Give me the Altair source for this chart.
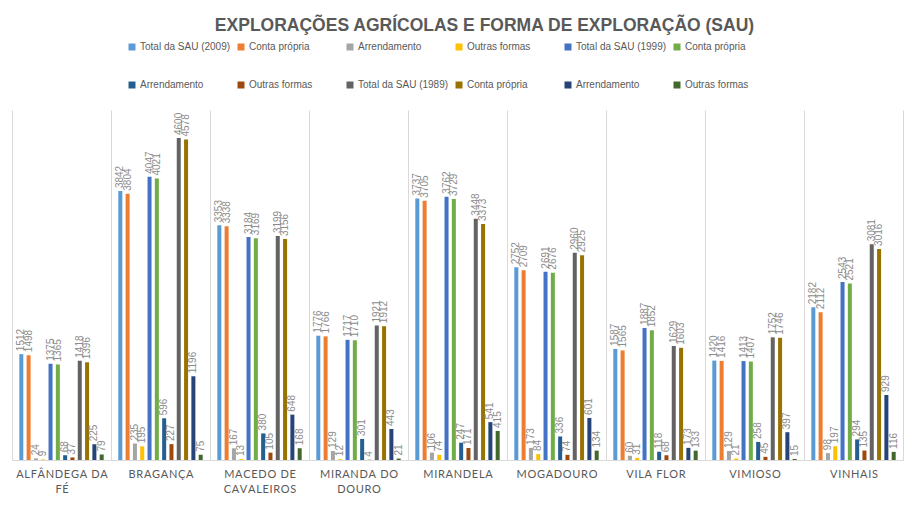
import altair as alt
import pandas as pd

municipios = ["Alfândega da Fé", "Bragança", "Macedo de Cavaleiros", "Miranda do Douro",
              "Mirandela", "Mogadouro", "Vila Flor", "Vimioso", "Vinhais"]
axis_lines = {
    "Alfândega da Fé": ["ALFÂNDEGA DA", "FÉ"],
    "Bragança": ["BRAGANÇA"],
    "Macedo de Cavaleiros": ["MACEDO DE", "CAVALEIROS"],
    "Miranda do Douro": ["MIRANDA DO", "DOURO"],
    "Mirandela": ["MIRANDELA"],
    "Mogadouro": ["MOGADOURO"],
    "Vila Flor": ["VILA FLOR"],
    "Vimioso": ["VIMIOSO"],
    "Vinhais": ["VINHAIS"],
}

series = ["Total da SAU (2009)", "Conta própria|2009", "Arrendamento|2009", "Outras formas|2009",
          "Total da SAU (1999)", "Conta própria|1999", "Arrendamento|1999", "Outras formas|1999",
          "Total da SAU (1989)", "Conta própria|1989", "Arrendamento|1989", "Outras formas|1989"]
colors = ["#5B9BD5", "#ED7D31", "#A5A5A5", "#FFC000",
          "#4472C4", "#70AD47", "#255E91", "#9E480E",
          "#636363", "#997300", "#264478", "#43682B"]

total_2009 = [1512, 3842, 3353, 1776, 3737, 2752, 1587, 1420, 2182]
conta_2009 = [1498, 3804, 3338, 1766, 3705, 2709, 1565, 1416, 2112]
arrend_2009 = [24, 235, 167, 129, 106, 173, 60, 129, 98]
outras_2009 = [9, 195, 13, 12, 74, 84, 31, 21, 197]
total_1999 = [1375, 4047, 3184, 1717, 3762, 2691, 1887, 1413, 2543]
conta_1999 = [1365, 4021, 3169, 1710, 3729, 2676, 1852, 1407, 2521]
arrend_1999 = [68, 596, 380, 301, 247, 336, 118, 258, 294]
outras_1999 = [37, 227, 105, 4, 171, 74, 68, 45, 135]
total_1989 = [1418, 4600, 3199, 1921, 3448, 2960, 1629, 1752, 3081]
conta_1989 = [1396, 4578, 3156, 1912, 3373, 2925, 1603, 1746, 3016]
arrend_1989 = [225, 1196, 648, 443, 541, 601, 173, 397, 929]
outras_1989 = [79, 75, 168, 21, 415, 134, 133, 15, 116]

values = [total_2009, conta_2009, arrend_2009, outras_2009,
          total_1999, conta_1999, arrend_1999, outras_1999,
          total_1989, conta_1989, arrend_1989, outras_1989]

rows = []
for s, vals in zip(series, values):
    for m, v in zip(municipios, vals):
        rows.append({"municipio": m, "serie": s, "valor": v})
df = pd.DataFrame(rows)

SP = "\u200a"
label_expr = ""
for k, lines in axis_lines.items():
    spaced = [SP.join(list(l)) for l in lines]
    label_expr += "datum.label == '%s' ? [%s] : " % (k, ", ".join("'%s'" % l for l in spaced))
label_expr += "upper(datum.label)"

x_enc = alt.X("municipio:N", sort=municipios, title=None,
              scale=alt.Scale(paddingInner=0, paddingOuter=0),
              axis=alt.Axis(labelAngle=0, labelExpr=label_expr, labelFont="Lato",
                            labelFontSize=11, labelColor="#595959", labelPadding=8,
                            labelLineHeight=15, ticks=False, grid=True, tickBand="extent",
                            gridColor="#D9D9D9", domainColor="#D9D9D9"))
xo_enc = alt.XOffset("serie:N", sort=series,
                     scale=alt.Scale(paddingInner=0.45, paddingOuter=1))
y_enc = alt.Y("valor:Q", axis=None, scale=alt.Scale(domain=[0, 5000]))

bars = alt.Chart(df).mark_bar().encode(
    x=x_enc, xOffset=xo_enc, y=y_enc,
    color=alt.Color("serie:N", sort=series,
                    scale=alt.Scale(domain=series, range=colors),
                    legend=alt.Legend(title=None, orient="none", legendX=115, legendY=-68,
                                      direction="horizontal", columns=6, gridAlign="all",
                                      symbolType="square", symbolSize=49, symbolStrokeWidth=0,
                                      symbolOffset=0, labelOffset=3,
                                      labelFont="Liberation Sans", labelFontSize=10,
                                      labelColor="#595959", columnPadding=5, rowPadding=28,
                                      labelExpr="split(datum.label, '|')[0]")),
)

labels = alt.Chart(df).mark_text(angle=270, align="left", baseline="middle", dx=3,
                                 fontSize=10, font="Liberation Sans", color="#8C8C8C").encode(
    x=x_enc, xOffset=xo_enc, y=y_enc, text=alt.Text("valor:Q"),
)

chart = alt.layer(bars, labels).properties(
    width=891, height=350,
    title=alt.TitleParams("EXPLORAÇÕES AGRÍCOLAS E FORMA DE EXPLORAÇÃO (SAU)",
                          font="Liberation Sans", fontSize=17.5, fontWeight="bold",
                          color="#595959", anchor="middle", offset=8, dx=27),
    autosize=alt.AutoSizeParams(type="none"),
    padding={"left": 4, "top": 102, "right": 3, "bottom": 37},
    background="white",
).configure_view(stroke=None)

chart.save("out.html", embed_options={"renderer": "svg", "actions": False})
